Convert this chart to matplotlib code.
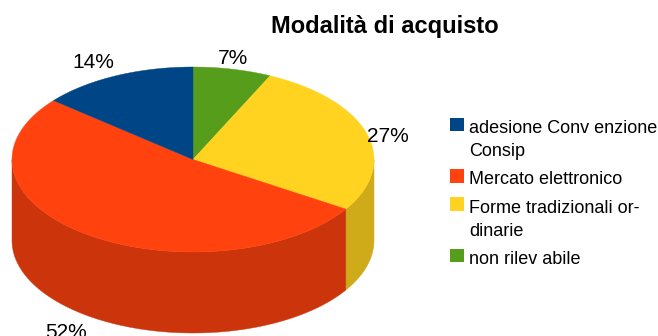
import numpy as np
import matplotlib
matplotlib.use("Agg")
import matplotlib.pyplot as plt
from matplotlib.patches import Polygon, Rectangle

plt.rcParams['font.family'] = ['Liberation Sans', 'DejaVu Sans']

title = "Modalità di acquisto"
# clockwise from 12 o'clock
values = [7, 27, 52, 14]
pct_labels = ["7%", "27%", "52%", "14%"]
top_colors = ["#579D1C", "#FFD320", "#FF420E", "#004586"]
side_colors = ["#467E16", "#CFAB1A", "#CC350B", "#00376B"]
legend_labels = ["adesione Conv enzione\nConsip", "Mercato elettronico",
                 "Forme tradizionali or-\ndinarie", "non rilev abile"]
legend_colors = ["#004586", "#FF420E", "#FFD320", "#579D1C"]
legend_ys = [124, 175.5, 203.5, 255]
legend_text_ys = [140, 180, 220, 260]
label_pos = [(233, 58.5), (388, 136.5), (66, 332), (93, 63)]

cx, cy, rx, ry, depth = 193, 159.5, 181, 92.5, 81

fig = plt.figure(figsize=(6.58, 3.36), dpi=100)
ax = fig.add_axes([0, 0, 1, 1])
ax.set_xlim(0, 658)
ax.set_ylim(336, 0)
ax.axis("off")


def rim(a0, a1):
    t = np.linspace(a0, a1, 200)
    return cx + rx * np.sin(t), cy - ry * np.cos(t)


edges = np.cumsum([0] + values) / sum(values) * 2 * np.pi

# sides (visible lower half only)
for i in range(len(values)):
    a0 = max(edges[i], np.pi / 2)
    a1 = min(edges[i + 1], 3 * np.pi / 2)
    if a1 <= a0:
        continue
    x, y = rim(a0, a1)
    pts = np.r_[np.c_[x, y], np.c_[x[::-1], y[::-1] + depth]]
    ax.add_patch(Polygon(pts, closed=True, fc=side_colors[i], ec=side_colors[i], lw=0.3))

# top faces
for i in range(len(values)):
    x, y = rim(edges[i], edges[i + 1])
    pts = np.r_[[[cx, cy]], np.c_[x, y]]
    ax.add_patch(Polygon(pts, closed=True, fc=top_colors[i], ec=top_colors[i], lw=0.3))

ax.text(384.5, 26, title, fontsize=17, fontweight="bold", ha="center", va="center", color="black")
for (px, py), s in zip(label_pos, pct_labels):
    ax.text(px, py, s, fontsize=15, ha="center", va="center", color="black")

for y, ty, c, s in zip(legend_ys, legend_text_ys, legend_colors, legend_labels):
    ax.add_patch(Rectangle((450, y - 6.5), 13.5, 13.5, fc=c, ec="none"))
    ax.text(469, ty, s, fontsize=13, ha="left", va="center", color="black", linespacing=1.5)

fig.savefig("out.png", dpi=100, facecolor="white")
